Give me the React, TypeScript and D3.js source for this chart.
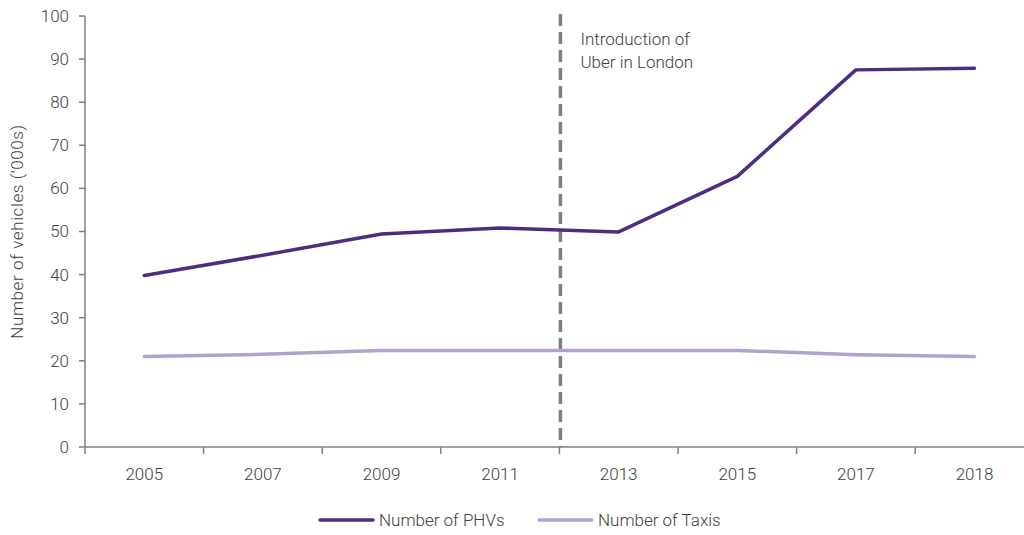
import React from "react";
import * as d3 from "d3";

const years = ["2005", "2007", "2009", "2011", "2013", "2015", "2017", "2018"];
const phvs = [39.8, 44.5, 49.4, 50.8, 49.9, 62.8, 87.5, 87.9];
const taxis = [21.0, 21.5, 22.4, 22.4, 22.4, 22.4, 21.4, 21.0];
const yTicks = [0, 10, 20, 30, 40, 50, 60, 70, 80, 90, 100];
const seriesNames = ["Number of PHVs", "Number of Taxis"];
const annotationLines = ["Introduction of", "Uber in London"];

const W = 1024;
const H = 535;
const FONT = "Roboto, 'Liberation Sans', sans-serif";
const TEXT = "#404040";
const AXIS = "#808080";
const PHV_COLOR = "#4e2d80";
const TAXI_COLOR = "#b3a3cc";

export default function App() {
  const x = d3.scaleBand<string>().domain(years).range([85, 85 + 118.6 * years.length]);
  const y = d3.scaleLinear().domain([0, 100]).range([447, 16]);
  const cx = (d: string) => (x(d) as number) + x.bandwidth() / 2;

  const line = d3
    .line<number>()
    .x((_, i) => cx(years[i]))
    .y((v) => y(v));

  // Dashed marker on the boundary between 2011 and 2013
  const markerX = (x("2013") as number) + 1;

  const legend = [
    { name: seriesNames[0], color: PHV_COLOR, x0: 320 },
    { name: seriesNames[1], color: TAXI_COLOR, x0: 539 },
  ];

  return (
    <svg
      width={W}
      height={H}
      style={{ position: "absolute", left: 0, top: 0, background: "#fff" }}
      fontFamily={FONT}
      fontWeight={300}
    >
      {/* y axis */}
      <line x1={85} x2={85} y1={y(100)} y2={y(0)} stroke={AXIS} strokeWidth={1.5} />
      {yTicks.map((t) => (
        <g key={t}>
          <line x1={79} x2={85} y1={y(t)} y2={y(t)} stroke={AXIS} strokeWidth={1.5} />
          <text x={69} y={y(t)} dy="0.35em" textAnchor="end" fontSize={17} fill={TEXT}>
            {t}
          </text>
        </g>
      ))}
      <text
        transform={`translate(23, ${y(50)}) rotate(-90)`}
        textAnchor="middle"
        fontSize={17}
        letterSpacing={0.6}
        fill={TEXT}
      >
        Number of vehicles ('000s)
      </text>

      {/* x axis */}
      <line x1={85} x2={W} y1={y(0)} y2={y(0)} stroke={AXIS} strokeWidth={1.5} />
      {years.map((yr) => (
        <g key={yr}>
          <line
            x1={x(yr) as number}
            x2={x(yr) as number}
            y1={y(0)}
            y2={y(0) + 7}
            stroke={AXIS}
            strokeWidth={1.5}
          />
          <text x={cx(yr)} y={y(0) + 33} textAnchor="middle" fontSize={17} fill={TEXT}>
            {yr}
          </text>
        </g>
      ))}

      {/* Uber introduction marker */}
      <line
        x1={markerX}
        x2={markerX}
        y1={14}
        y2={y(0)}
        stroke="#7f7f7f"
        strokeWidth={3.5}
        strokeDasharray="12 6"
      />
      {annotationLines.map((s, i) => (
        <text key={s} x={markerX + 20} y={45 + i * 23} fontSize={17} fill={TEXT}>
          {s}
        </text>
      ))}

      {/* series */}
      <path d={line(taxis) || ""} fill="none" stroke={TAXI_COLOR} strokeWidth={3.5} strokeLinejoin="round" strokeLinecap="round" />
      <path d={line(phvs) || ""} fill="none" stroke={PHV_COLOR} strokeWidth={3.5} strokeLinejoin="round" strokeLinecap="round" />

      {/* legend */}
      {legend.map((l) => (
        <g key={l.name}>
          <line x1={l.x0} x2={l.x0 + 53} y1={520} y2={520} stroke={l.color} strokeWidth={3.5} strokeLinecap="round" />
          <text x={l.x0 + 59} y={520} dy="0.35em" fontSize={17} fill={TEXT}>
            {l.name}
          </text>
        </g>
      ))}
    </svg>
  );
}
